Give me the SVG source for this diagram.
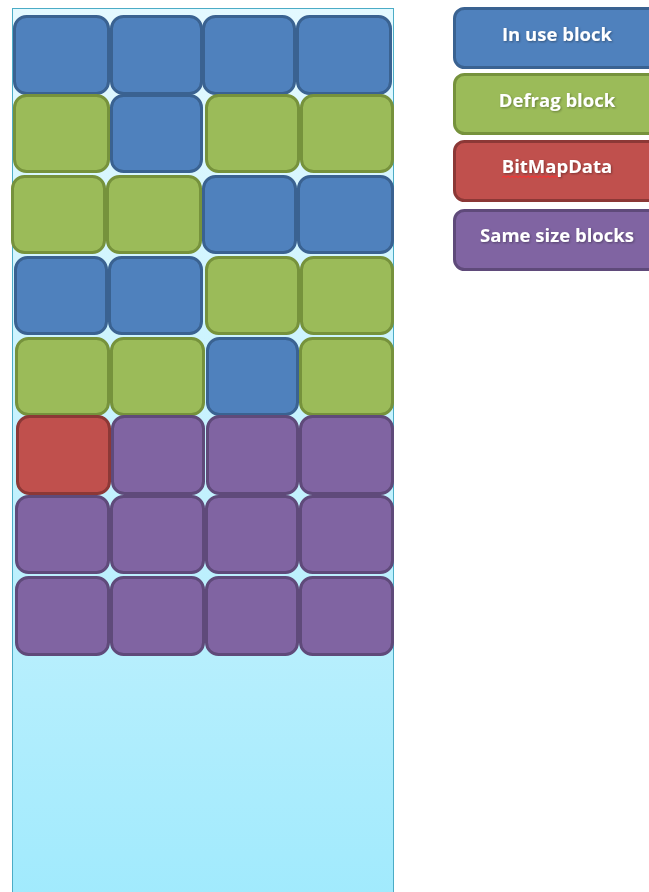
<svg xmlns="http://www.w3.org/2000/svg" width="649" height="892" viewBox="0 0 649 892">
<defs>
<linearGradient id="bg" x1="0" y1="0" x2="0" y2="1">
<stop offset="0" stop-color="#e4f9ff"/>
<stop offset="0.7" stop-color="#b8effd"/>
<stop offset="1" stop-color="#a0eafd"/>
</linearGradient>
<filter id="sh" x="-10%" y="-10%" width="120%" height="130%">
<feDropShadow dx="1" dy="1" stdDeviation="0.8" flood-color="#000" flood-opacity="0.35"/>
</filter>
</defs>
<style>
.b{stroke-width:3}
.blue{fill:#4f81bd;stroke:#3a6291}
.green{fill:#9bbb59;stroke:#76923c}
.red{fill:#c0504d;stroke:#8c3836}
.purple{fill:#8064a2;stroke:#5f4a7a}
.lg{stroke-width:3}
.lt{font-family:"Open Sans","Liberation Sans",sans-serif;font-weight:bold;font-size:18.5px;fill:#ffffff;text-anchor:middle}
</style>
<rect width="649" height="892" fill="#ffffff"/>
<g id="container">
<rect x="12.5" y="8.5" width="381" height="900" fill="url(#bg)" stroke="#4bacc6" stroke-width="1"/>
</g>
<g id="blocks">
<g id="r1">
<rect class="b blue" x="14.5" y="16.5" width="94" height="77" rx="12"/>
<rect class="b blue" x="111.5" y="16.5" width="90" height="77" rx="12"/>
<rect class="b blue" x="203.5" y="16.5" width="91" height="77" rx="12"/>
<rect class="b blue" x="297.5" y="16.5" width="93" height="77" rx="12"/>
</g>
<g id="r2">
<rect class="b green" x="14.5" y="95.5" width="94" height="76" rx="12"/>
<rect class="b blue" x="111.5" y="95.5" width="90" height="76" rx="12"/>
<rect class="b green" x="206.5" y="95.5" width="92" height="76" rx="12"/>
<rect class="b green" x="301.5" y="95.5" width="91" height="76" rx="12"/>
</g>
<g id="r3">
<rect class="b green" x="12.5" y="176.5" width="92" height="76" rx="12"/>
<rect class="b green" x="107.5" y="176.5" width="93" height="76" rx="12"/>
<rect class="b blue" x="203.5" y="176.5" width="92" height="76" rx="12"/>
<rect class="b blue" x="298.5" y="176.5" width="94" height="76" rx="12"/>
</g>
<g id="r4">
<rect class="b blue" x="15.5" y="257.5" width="91" height="76" rx="12"/>
<rect class="b blue" x="109.5" y="257.5" width="92" height="76" rx="12"/>
<rect class="b green" x="206.5" y="257.5" width="92" height="76" rx="12"/>
<rect class="b green" x="301.5" y="257.5" width="91" height="76" rx="12"/>
</g>
<g id="r5">
<rect class="b green" x="16.5" y="338.5" width="92" height="76" rx="12"/>
<rect class="b green" x="111.5" y="338.5" width="92" height="76" rx="12"/>
<rect class="b blue" x="207.5" y="338.5" width="90" height="76" rx="12"/>
<rect class="b green" x="300.5" y="338.5" width="92" height="76" rx="12"/>
</g>
<g id="r6">
<rect class="b red" x="17.5" y="416.5" width="92" height="77" rx="12"/>
<rect class="b purple" x="112.5" y="416.5" width="91" height="77" rx="12"/>
<rect class="b purple" x="207.5" y="416.5" width="90" height="77" rx="12"/>
<rect class="b purple" x="300.5" y="416.5" width="92" height="77" rx="12"/>
</g>
<g id="r7">
<rect class="b purple" x="16.5" y="496.5" width="92" height="76" rx="12"/>
<rect class="b purple" x="111.5" y="496.5" width="92" height="76" rx="12"/>
<rect class="b purple" x="206.5" y="496.5" width="91" height="76" rx="12"/>
<rect class="b purple" x="300.5" y="496.5" width="92" height="76" rx="12"/>
</g>
<g id="r8">
<rect class="b purple" x="16.5" y="577.5" width="92" height="77" rx="12"/>
<rect class="b purple" x="111.5" y="577.5" width="92" height="77" rx="12"/>
<rect class="b purple" x="206.5" y="577.5" width="91" height="77" rx="12"/>
<rect class="b purple" x="300.5" y="577.5" width="92" height="77" rx="12"/>
</g>
</g>
<g id="legend-inuse">
<rect class="lg blue" x="454.5" y="8.5" width="210" height="59" rx="10"/>
<text class="lt" x="557" y="41" filter="url(#sh)">In use block</text>
</g>
<g id="legend-defrag">
<rect class="lg green" x="454.5" y="74.5" width="210" height="59" rx="10"/>
<text class="lt" x="557" y="107" filter="url(#sh)">Defrag block</text>
</g>
<g id="legend-bitmap">
<rect class="lg red" x="454.5" y="141.5" width="210" height="59" rx="10"/>
<text class="lt" x="557" y="173" filter="url(#sh)">BitMapData</text>
<path d="M502 177.5 l2 -1.5 l2 1.5 l2 -1.5 l2 1.5 l2 -1.5 l2 1.5 l2 -1.5 l2 1.5 l2 -1.5 l2 1.5 l2 -1.5 l2 1.5 l2 -1.5 l2 1.5 l2 -1.5 l2 1.5 l2 -1.5 l2 1.5 l2 -1.5 l2 1.5 l2 -1.5 l2 1.5 l2 -1.5 l2 1.5 l2 -1.5 l2 1.5 l2 -1.5 l2 1.5" fill="none" stroke="#ff3030" stroke-width="1"/>
</g>
<g id="legend-same">
<rect class="lg purple" x="454.5" y="210.5" width="210" height="59" rx="10"/>
<text class="lt" x="557" y="242" filter="url(#sh)">Same size blocks</text>
</g>
</svg>
